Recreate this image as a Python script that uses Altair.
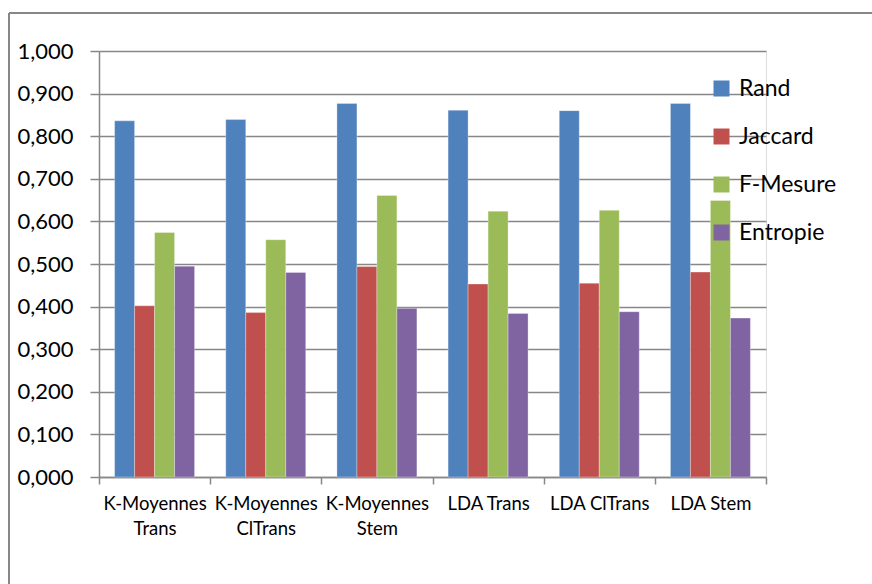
import altair as alt
import pandas as pd

# Evaluation scores per clustering configuration
categories = [
    "K-Moyennes\nTrans",
    "K-Moyennes\nClTrans",
    "K-Moyennes\nStem",
    "LDA Trans",
    "LDA ClTrans",
    "LDA Stem",
]
measures = ["Rand", "Jaccard", "F-Mesure", "Entropie"]
rand = [0.836, 0.839, 0.877, 0.861, 0.860, 0.877]
jaccard = [0.402, 0.386, 0.494, 0.453, 0.455, 0.481]
f_mesure = [0.574, 0.557, 0.661, 0.624, 0.626, 0.649]
entropie = [0.495, 0.480, 0.396, 0.384, 0.388, 0.373]
colors = ["#4F81BD", "#C0504D", "#9BBB59", "#8064A2"]

series = {"Rand": rand, "Jaccard": jaccard, "F-Mesure": f_mesure, "Entropie": entropie}
rows = []
for m in measures:
    for c, v in zip(categories, series[m]):
        rows.append({"config": c, "mesure": m, "valeur": v})
df = pd.DataFrame(rows)

FONT = "Lato"
GRID = "#878787"

bars = alt.Chart(df).mark_bar(stroke="#ffffff", strokeWidth=0.6, strokeOpacity=0.5).encode(
    x=alt.X(
        "config:N",
        sort=categories,
        scale=alt.Scale(paddingInner=0, paddingOuter=0),
        axis=alt.Axis(
            title=None,
            labelAngle=0,
            labelExpr="split(datum.label, '\\n')",
            labelFontSize=18.5,
            labelFont=FONT,
            labelColor="#000000",
            labelPadding=10,
            labelLineHeight=25,
            labelBaseline="top",
            tickBand="extent",
            tickSize=7,
            tickColor=GRID,
            tickWidth=1.5,
            domainColor=GRID,
            domainWidth=1.5,
            grid=False,
        ),
    ),
    xOffset=alt.XOffset(
        "mesure:N",
        sort=measures,
        scale=alt.Scale(paddingInner=0, paddingOuter=0.78),
    ),
    y=alt.Y(
        "valeur:Q",
        scale=alt.Scale(domain=[0, 1], nice=False),
        axis=alt.Axis(
            title=None,
            values=[i / 10 for i in range(11)],
            labelExpr="replace(format(datum.value, '.3f'), '.', ',')",
            labelFontSize=22,
            labelFont=FONT,
            labelColor="#000000",
            labelPadding=17,
            tickSize=9,
            tickColor=GRID,
            tickWidth=1.5,
            domainColor=GRID,
            domainWidth=1.5,
            grid=True,
            gridColor=GRID,
            gridWidth=1.5,
        ),
    ),
    color=alt.Color(
        "mesure:N",
        sort=measures,
        scale=alt.Scale(domain=measures, range=colors),
        legend=alt.Legend(
            title=None,
            orient="none",
            legendX=611,
            legendY=26,
            symbolType="square",
            symbolSize=256,
            symbolStrokeWidth=0,
            labelFontSize=23,
            labelFont=FONT,
            labelColor="#000000",
            labelOffset=6,
            rowPadding=24,
        ),
    ),
)

# Outer chart frame (top and left edges)
frame_top = alt.Chart(df).mark_rule(color=GRID, strokeWidth=1.5).encode(
    x=alt.value(-90), x2=alt.value(800), y=alt.value(-38)
)
frame_left = alt.Chart(df).mark_rule(color=GRID, strokeWidth=1.5).encode(
    x=alt.value(-90), y=alt.value(-38), y2=alt.value(600)
)

chart = (
    alt.layer(frame_top, frame_left, bars)
    .properties(
        width=667,
        height=426,
        autosize=alt.AutoSizeParams(type="none"),
        padding={"left": 99, "top": 51, "right": 106, "bottom": 107},
    )
    .configure_view(stroke=None)
    .configure(background="#ffffff")
)

chart.save("out.html", embed_options={"renderer": "svg", "actions": False})
